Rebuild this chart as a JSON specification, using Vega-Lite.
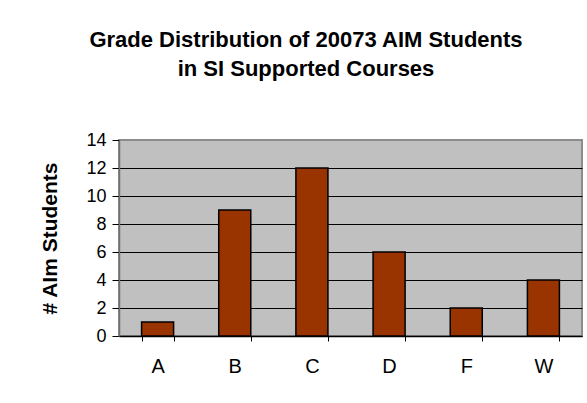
{
  "$schema": "https://vega.github.io/schema/vega-lite/v6.json",
  "width": 463,
  "height": 196,
  "autosize": "none",
  "padding": {"left": 119, "top": 140, "right": 5, "bottom": 67},
  "background": "white",
  "title": {
    "text": ["Grade Distribution of 20073 AIM Students", "in SI Supported Courses"],
    "font": "Liberation Sans",
    "fontSize": 22,
    "fontWeight": "bold",
    "color": "black",
    "anchor": "middle",
    "frame": "bounds",
    "baseline": "bottom",
    "lineHeight": 29,
    "offset": 28,
    "dx": -5
  },
  "data": {
    "values": [
      {"grade": "A", "count": 1},
      {"grade": "B", "count": 9},
      {"grade": "C", "count": 12},
      {"grade": "D", "count": 6},
      {"grade": "F", "count": 2},
      {"grade": "W", "count": 4}
    ]
  },
  "mark": {"type": "bar", "fill": "#993300", "stroke": "black", "strokeWidth": 1.5},
  "encoding": {
    "x": {
      "field": "grade",
      "type": "nominal",
      "sort": null,
      "scale": {"paddingInner": 0.585, "paddingOuter": 0.2925},
      "axis": {
        "title": null,
        "labelAngle": 0,
        "labelFont": "Liberation Sans",
        "labelFontSize": 20,
        "labelColor": "black",
        "labelPadding": 15,
        "tickBand": "extent",
        "tickSize": 5,
        "tickColor": "black",
        "domainColor": "black",
        "domainWidth": 1.5,
        "grid": false
      }
    },
    "y": {
      "field": "count",
      "type": "quantitative",
      "scale": {"domain": [0, 14], "nice": false},
      "axis": {
        "title": "# AIm Students",
        "titleFont": "Liberation Sans",
        "titleFontSize": 21,
        "titleFontWeight": "bold",
        "titleColor": "black",
        "titlePadding": 25,
        "values": [0, 2, 4, 6, 8, 10, 12, 14],
        "labelFont": "Liberation Sans",
        "labelFontSize": 18,
        "labelColor": "black",
        "labelPadding": 6,
        "tickSize": 7,
        "tickColor": "black",
        "domainColor": "#707070",
        "domainWidth": 1.5,
        "grid": true,
        "gridColor": {"condition": {"test": "datum.value === 14", "value": "#8c8c8c"}, "value": "black"},
        "gridWidth": 1.2,
        "gridOpacity": 1
      }
    }
  },
  "config": {
    "view": {"fill": "#C0C0C0", "stroke": "#8c8c8c", "strokeWidth": 2}
  }
}
